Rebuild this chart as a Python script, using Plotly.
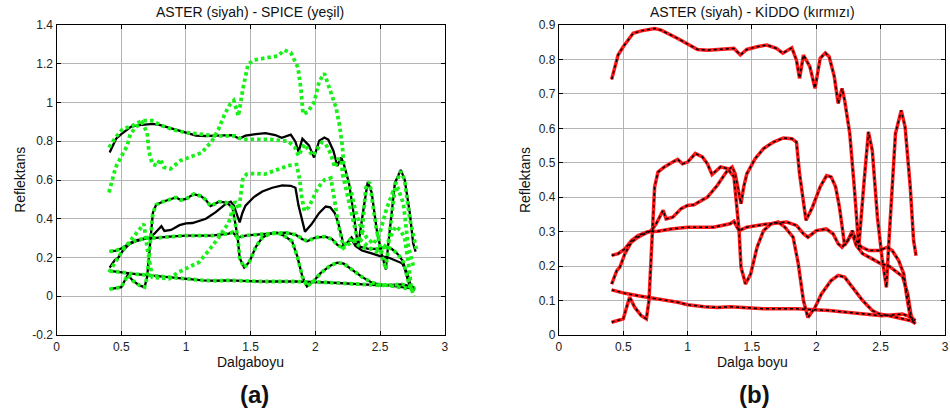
import plotly.graph_objects as go

# ---------------- ASTER spectra (black) ----------------
aster_A_x = [0.41,0.436,0.46,0.5,0.538,0.577,0.64,0.69,0.744,0.795,0.846,0.923,1.0,1.077,1.154,1.23,1.3,1.36,1.41,1.46,1.54,1.615,1.69,1.74,1.81,1.846,1.87,1.9,1.95,1.99,2.03,2.07,2.1,2.14,2.17,2.2,2.22,2.26,2.295,2.33,2.37,2.405,2.435,2.475,2.51,2.545,2.56,2.59,2.615,2.66,2.69,2.73,2.756,2.775]
aster_A_y = [0.742,0.779,0.813,0.837,0.857,0.876,0.883,0.887,0.89,0.885,0.876,0.861,0.845,0.829,0.827,0.829,0.832,0.832,0.813,0.829,0.837,0.842,0.832,0.818,0.834,0.798,0.745,0.813,0.779,0.716,0.803,0.819,0.808,0.75,0.672,0.716,0.682,0.585,0.43,0.255,0.44,0.59,0.536,0.342,0.226,0.138,0.245,0.449,0.585,0.652,0.604,0.43,0.274,0.23]

aster_B_x = [0.41,0.46,0.5,0.526,0.55,0.59,0.64,0.68,0.70,0.713,0.726,0.738,0.744,0.77,0.82,0.885,0.923,0.96,1.0,1.06,1.115,1.154,1.19,1.256,1.31,1.36,1.385,1.4,1.415,1.45,1.49,1.54,1.59,1.65,1.705,1.756,1.82,1.86,1.9,1.935,1.99,2.04,2.115,2.17,2.22,2.28,2.36,2.435,2.49,2.565,2.67,2.73,2.77]
aster_B_y = [0.037,0.042,0.047,0.08,0.11,0.08,0.056,0.047,0.10,0.197,0.294,0.391,0.43,0.473,0.488,0.502,0.51,0.497,0.502,0.527,0.517,0.497,0.466,0.488,0.483,0.459,0.371,0.303,0.197,0.148,0.177,0.255,0.303,0.323,0.328,0.313,0.284,0.207,0.10,0.051,0.08,0.119,0.158,0.173,0.168,0.138,0.10,0.071,0.061,0.056,0.047,0.042,0.034]

aster_C_x = [0.41,0.45,0.474,0.513,0.564,0.615,0.667,0.718,0.756,0.795,0.81,0.833,0.885,0.95,1.0,1.05,1.1,1.154,1.23,1.31,1.346,1.37,1.4,1.415,1.436,1.46,1.525,1.59,1.667,1.744,1.81,1.846,1.87,1.897,1.92,1.97,2.03,2.08,2.115,2.15,2.18,2.205,2.22,2.26,2.28,2.31,2.36,2.435,2.5,2.565,2.62,2.67,2.71,2.735,2.755]
aster_C_y = [0.148,0.187,0.197,0.236,0.27,0.284,0.294,0.303,0.323,0.352,0.362,0.337,0.342,0.367,0.376,0.378,0.39,0.40,0.434,0.478,0.488,0.468,0.41,0.381,0.43,0.468,0.512,0.541,0.56,0.572,0.57,0.56,0.468,0.39,0.333,0.371,0.43,0.463,0.459,0.43,0.371,0.303,0.26,0.284,0.294,0.26,0.236,0.221,0.207,0.2,0.185,0.17,0.12,0.06,0.037]

aster_D_x = [0.41,0.46,0.513,0.564,0.615,0.69,0.77,0.87,1.0,1.077,1.2,1.33,1.36,1.4,1.46,1.59,1.69,1.77,1.846,1.9,1.935,2.0,2.077,2.13,2.17,2.2,2.245,2.28,2.31,2.35,2.41,2.49,2.55,2.59,2.64,2.68,2.7,2.73,2.77]
aster_D_y = [0.231,0.236,0.25,0.274,0.289,0.30,0.301,0.308,0.313,0.313,0.313,0.323,0.33,0.303,0.313,0.321,0.325,0.328,0.318,0.294,0.284,0.303,0.308,0.294,0.265,0.255,0.274,0.303,0.274,0.255,0.245,0.245,0.255,0.245,0.216,0.177,0.119,0.051,0.032]

aster_E_x = [0.41,0.513,0.615,0.718,0.82,0.923,1.0,1.13,1.23,1.33,1.59,1.846,2.1,2.36,2.51,2.67,2.74,2.77]
aster_E_y = [0.131,0.121,0.114,0.108,0.102,0.095,0.088,0.082,0.08,0.082,0.076,0.076,0.071,0.061,0.056,0.061,0.051,0.042]

# ---------------- SPICE spectra (green) ----------------
spice_1_x = [0.405,0.456,0.51,0.585,0.66,0.74,0.815,0.9,1.0,1.12,1.225,1.38,1.43,1.53,1.64,1.79,1.84,1.87,1.915,1.98,2.05,2.08,2.12,2.15,2.175,2.2,2.21,2.235,2.26,2.29,2.33,2.36,2.39,2.42,2.44,2.47,2.51,2.545,2.585,2.62,2.66,2.69,2.73,2.78]
spice_1_y = [0.768,0.82,0.863,0.88,0.906,0.906,0.88,0.86,0.845,0.837,0.828,0.828,0.81,0.81,0.81,0.80,0.77,0.725,0.785,0.725,0.794,0.785,0.734,0.665,0.708,0.708,0.63,0.56,0.49,0.41,0.28,0.32,0.56,0.59,0.49,0.355,0.22,0.14,0.39,0.58,0.645,0.6,0.4,0.245]

spice_2_x = [0.405,0.43,0.456,0.51,0.546,0.57,0.61,0.66,0.70,0.713,0.74,0.777,0.80,0.83,0.88,0.956,1.046,1.12,1.2,1.25,1.3,1.34,1.37,1.405,1.44,1.48,1.53,1.64,1.71,1.76,1.81,1.866,1.89,1.905,1.94,1.99,2.03,2.07,2.12,2.16,2.185,2.21,2.22,2.25,2.28,2.31,2.36,2.4,2.45,2.5,2.55,2.6,2.64,2.68,2.72,2.76]
spice_2_y = [0.536,0.605,0.665,0.734,0.777,0.837,0.871,0.897,0.845,0.75,0.682,0.674,0.708,0.665,0.657,0.70,0.72,0.74,0.80,0.86,0.94,0.99,1.01,0.93,1.07,1.198,1.22,1.23,1.24,1.27,1.258,1.18,1.06,0.94,0.95,1.0,1.11,1.15,1.06,0.974,0.89,0.77,0.665,0.60,0.53,0.44,0.34,0.30,0.27,0.33,0.45,0.54,0.555,0.48,0.25,0.15]

spice_3_x = [0.405,0.51,0.61,0.675,0.70,0.74,0.8,0.87,0.94,1.02,1.1,1.175,1.25,1.33,1.38,1.41,1.44,1.47,1.53,1.61,1.72,1.79,1.855,1.88,1.89,1.915,1.95,2.02,2.07,2.12,2.15,2.18,2.22,2.28,2.35,2.42,2.5,2.56,2.62,2.66,2.69,2.72,2.74,2.76]
spice_3_y = [0.124,0.236,0.32,0.373,0.25,0.098,0.095,0.09,0.124,0.15,0.175,0.235,0.30,0.38,0.49,0.45,0.61,0.63,0.634,0.63,0.66,0.674,0.68,0.60,0.53,0.44,0.46,0.56,0.60,0.61,0.49,0.36,0.25,0.28,0.29,0.25,0.22,0.28,0.36,0.34,0.30,0.17,0.05,0.0]

# SPICE curves that coincide with ASTER B, D, E (read as overlapping)
spice_4_x, spice_4_y = aster_B_x, aster_B_y
spice_5_x, spice_5_y = aster_D_x, aster_D_y
spice_6_x, spice_6_y = aster_E_x, aster_E_y

# ---------------- KIDDO spectra (red) - overlap ASTER ----------------
kiddo = [(aster_A_x, aster_A_y), (aster_B_x, aster_B_y), (aster_C_x, aster_C_y),
         (aster_D_x, aster_D_y), (aster_E_x, aster_E_y)]
aster = kiddo
spice = [(spice_1_x, spice_1_y), (spice_2_x, spice_2_y), (spice_3_x, spice_3_y),
         (spice_4_x, spice_4_y), (spice_5_x, spice_5_y), (spice_6_x, spice_6_y)]

x_ticks = [0, 0.5, 1, 1.5, 2, 2.5, 3]
x_tick_text = ["0", "0.5", "1", "1.5", "2", "2.5", "3"]
yL_ticks = [-0.2, 0, 0.2, 0.4, 0.6, 0.8, 1.0, 1.2, 1.4]
yL_tick_text = ["-0.2", "0", "0.2", "0.4", "0.6", "0.8", "1", "1.2", "1.4"]
yR_ticks = [0, 0.1, 0.2, 0.3, 0.4, 0.5, 0.6, 0.7, 0.8, 0.9]
yR_tick_text = ["0", "0.1", "0.2", "0.3", "0.4", "0.5", "0.6", "0.7", "0.8", "0.9"]

GREEN = "#19f019"
fig = go.Figure()

for xs, ys in aster:
    fig.add_trace(go.Scatter(x=xs, y=ys, mode="lines", xaxis="x", yaxis="y",
                             line=dict(color="black", width=2.3), hoverinfo="skip"))
for xs, ys in spice:
    fig.add_trace(go.Scatter(x=xs, y=ys, mode="lines", xaxis="x", yaxis="y",
                             line=dict(color=GREEN, width=3.8, dash="3.5px,3px"), hoverinfo="skip"))
for xs, ys in kiddo:
    fig.add_trace(go.Scatter(x=xs, y=ys, mode="lines", xaxis="x2", yaxis="y2",
                             line=dict(color="#ff1a1a", width=3.5), hoverinfo="skip"))
for xs, ys in aster:
    fig.add_trace(go.Scatter(x=xs, y=ys, mode="lines", xaxis="x2", yaxis="y2",
                             line=dict(color="black", width=1.5, dash="3px,3px"), hoverinfo="skip"))

W, H = 950, 413
TOP, BOT = 25, 335
FONT = "Liberation Sans, Arial, sans-serif"

def ax_common():
    return dict(showgrid=True, gridcolor="#b4b4b4", gridwidth=1, zeroline=False,
                showline=True, linecolor="black", linewidth=1.3, mirror="ticks",
                ticks="inside", ticklen=4, tickcolor="black",
                tickfont=dict(family=FONT, size=12, color="#222"))

fig.update_layout(
    width=W, height=H, margin=dict(l=0, r=0, t=TOP, b=H - BOT),
    paper_bgcolor="white", plot_bgcolor="white", showlegend=False,
    xaxis=dict(domain=[54 / W, 445 / W], range=[0, 3], tickvals=x_ticks, ticktext=x_tick_text,
               anchor="y", **ax_common()),
    yaxis=dict(domain=[0, 1], range=[-0.2, 1.4], tickvals=yL_ticks, ticktext=yL_tick_text,
               anchor="x", **ax_common()),
    xaxis2=dict(domain=[560 / W, 949 / W], range=[0, 3], tickvals=x_ticks, ticktext=x_tick_text,
                anchor="y2", **ax_common()),
    yaxis2=dict(domain=[0, 1], range=[0, 0.9], tickvals=yR_ticks, ticktext=yR_tick_text,
                anchor="x2", **ax_common()),
)

def ypap(py):
    return (BOT - py) / (BOT - TOP)

def ann(text, px, py, size, bold=False, angle=0):
    fig.add_annotation(text=f"<b>{text}</b>" if bold else text, xref="paper", yref="paper",
                       x=px / W, y=ypap(py), xanchor="center", yanchor="middle",
                       showarrow=False, textangle=angle,
                       font=dict(family=FONT, size=size, color="#111"))

ann("ASTER (siyah) - SPICE (yeşil)", 249, 12, 14)
ann("ASTER (siyah) - KİDDO (kırmızı)", 755, 12, 14)
ann("Reflektans", 17, 180, 14, angle=-90)
ann("Reflektans", 526, 180, 14, angle=-90)
ann("Dalgaboyu", 249, 362, 14)
ann("Dalga boyu", 755, 362, 14)
ann("(a)", 253, 394, 24, bold=True)
ann("(b)", 757, 394, 24, bold=True)

fig.write_html("out.html", config={"displayModeBar": False},
               post_script="document.body.style.margin='0';document.body.style.overflow='hidden';")
